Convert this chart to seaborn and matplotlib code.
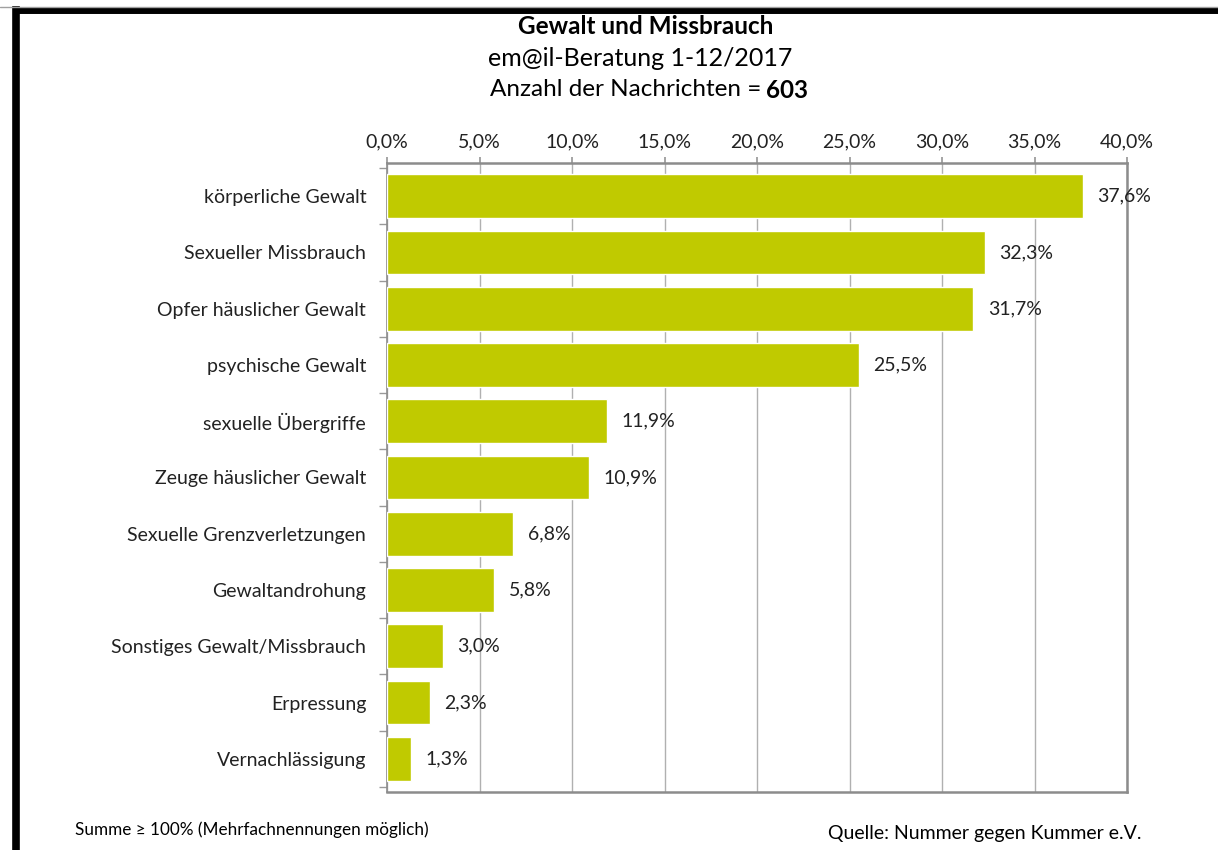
import matplotlib
matplotlib.use("Agg")
import matplotlib.pyplot as plt
import seaborn as sns
import pandas as pd
import numpy as np
from matplotlib.lines import Line2D

categories = ["körperliche Gewalt", "Sexueller Missbrauch", "Opfer häuslicher Gewalt",
              "psychische Gewalt", "sexuelle Übergriffe", "Zeuge häuslicher Gewalt",
              "Sexuelle Grenzverletzungen", "Gewaltandrohung", "Sonstiges Gewalt/Missbrauch",
              "Erpressung", "Vernachlässigung"]
values = [37.6, 32.3, 31.7, 25.5, 11.9, 10.9, 6.8, 5.8, 3.0, 2.3, 1.3]
x_ticks = [0, 5, 10, 15, 20, 25, 30, 35, 40]

sns.set_theme(style="white")
plt.rcParams['font.family'] = ['Lato', 'DejaVu Sans']

df = pd.DataFrame({"cat": categories, "val": values})

fig = plt.figure(figsize=(12.18, 8.5), dpi=100)
ax = fig.add_axes([387/1218, 1-792/850, (1127-387)/1218, (792-163)/850])

sns.barplot(data=df, y="cat", x="val", color="#C0CA00", saturation=1, width=0.78,
            ax=ax, orient="h", zorder=3)

ax.set_xlim(0, 40)
ax.set_ylim(len(categories)-0.5+0.09, -0.5-0.09)
ax.set_xlabel("")
ax.set_ylabel("")
ax.xaxis.tick_top()
ax.set_xticks(x_ticks)
ax.set_xticklabels([f"{t:.1f}%".replace(".", ",") for t in x_ticks], fontsize=14, color="#222222")
ax.tick_params(axis="x", which="major", length=4, color="#999999", pad=5, top=True, bottom=False)
ax.grid(axis="x", color="#b0b0b0", linewidth=1, zorder=0)
ax.grid(axis="y", visible=False)
ax.set_axisbelow(True)

ax.set_yticks(range(len(categories)))
ax.set_yticklabels(categories, fontsize=14, color="#222222")
ax.tick_params(axis="y", which="major", length=0, pad=15)
ax.set_yticks(np.arange(-0.5, len(categories), 1), minor=True)
ax.tick_params(axis="y", which="minor", length=6, color="#999999", width=1, left=True)

for s in ["top", "right", "bottom", "left"]:
    ax.spines[s].set_visible(True)
    ax.spines[s].set_color("#8c8c8c")
    ax.spines[s].set_linewidth(1.8)
ax.spines["left"].set_linewidth(1.2)

for i, v in enumerate(values):
    ax.text(v + 0.8, i, f"{v:.1f}%".replace(".", ","), va="center", ha="left",
            fontsize=14, color="#222222", zorder=5)

fig.text(646/1218, 1-26/850, "Gewalt und Missbrauch", ha="center", va="center",
         fontsize=17.5, fontweight="bold", color="black")
fig.text(640/1218, 1-59/850, "em@il-Beratung 1-12/2017", ha="center", va="center",
         fontsize=18, color="black")
fig.text(761/1218, 1-90/850, "Anzahl der Nachrichten =", ha="right", va="center",
         fontsize=17.5, color="black")
fig.text(766/1218, 1-90/850, "603", ha="left", va="center",
         fontsize=17.5, fontweight="bold", color="black")

fig.text(75/1218, 1-830/850, "Summe ≥ 100% (Mehrfachnennungen möglich)", ha="left", va="center",
         fontsize=12.3, color="black")
fig.text(1141/1218, 1-833/850, "Quelle: Nummer gegen Kummer e.V.", ha="right", va="center",
         fontsize=14, color="black")

# outer frame (left and top black borders)
fig.add_artist(Line2D([15.5/1218, 15.5/1218], [0, 1-10/850], color="black", linewidth=5.5,
                      transform=fig.transFigure, solid_capstyle="projecting"))
fig.add_artist(Line2D([15.5/1218, 1], [1-10/850, 1-10/850], color="black", linewidth=5,
                      transform=fig.transFigure))
fig.add_artist(Line2D([0, 1], [1-6.5/850, 1-6.5/850], color="#a0a0a0", linewidth=1,
                      transform=fig.transFigure))

fig.savefig("out.png", dpi=100, facecolor="white")
